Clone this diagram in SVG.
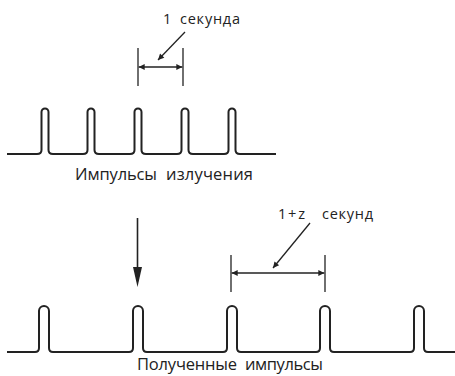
<svg xmlns="http://www.w3.org/2000/svg" width="455" height="376" viewBox="0 0 455 376">
<style>
.wave{fill:none;stroke:#222;stroke-width:2;stroke-linejoin:round}
.dim{fill:none;stroke:#222;stroke-width:1.3}
.txt{font-family:"Open Sans",Roboto,"Liberation Sans",sans-serif;fill:#222}
</style>
<defs>
<marker id="ah" viewBox="0 0 10 10" refX="10" refY="5" markerWidth="8" markerHeight="6" markerUnits="userSpaceOnUse" orient="auto-start-reverse">
<path d="M0,0L10,5L0,10z" fill="#222"/>
</marker>
</defs>
<rect width="455" height="376" fill="#fff"/>
<g id="emitted-pulses">
<path class="wave" d="M7,154 H37 Q41.5,154 41.5,150 V112 A3.5,3.5 0 0 1 48.5,112 V150 Q48.5,154 53,154 H83 Q87.5,154 87.5,150 V112 A3.5,3.5 0 0 1 94.5,112 V150 Q94.5,154 99,154 H130 Q134.5,154 134.5,150 V112 A3.5,3.5 0 0 1 141.5,112 V150 Q141.5,154 146,154 H177 Q181.5,154 181.5,150 V112 A3.5,3.5 0 0 1 188.5,112 V150 Q188.5,154 193,154 H224 Q228.5,154 228.5,150 V112 A3.5,3.5 0 0 1 235.5,112 V150 Q235.5,154 240,154 H276"/>
<text class="txt" font-size="16.5" y="180"><tspan x="75" textLength="82">Импульсы</tspan><tspan x="166" textLength="87">излучения</tspan></text>
</g>
<g id="received-pulses">
<path class="wave" d="M7,352 H35 Q39,352 39,348 V311 A5,5 0 0 1 49,311 V348 Q49,352 53,352 H129 Q133,352 133,348 V311 A5,5 0 0 1 143,311 V348 Q143,352 147,352 H223 Q227,352 227,348 V311 A5,5 0 0 1 237,311 V348 Q237,352 241,352 H316 Q320,352 320,348 V311 A5,5 0 0 1 330,311 V348 Q330,352 334,352 H410 Q414,352 414,348 V311 A5,5 0 0 1 424,311 V348 Q424,352 428,352 H455"/>
<text class="txt" font-size="16.5" y="369.5"><tspan x="137" textLength="100">Полученные</tspan><tspan x="245" textLength="78">импульсы</tspan></text>
</g>
<g id="label-1s">
<text class="txt" font-size="14.5" y="24"><tspan x="163">1</tspan><tspan x="180" textLength="60">секунда</tspan></text>
</g>
<g id="label-1z">
<text class="txt" font-size="14.5" y="219"><tspan x="278" textLength="27">1+z</tspan><tspan x="322" textLength="51">секунд</tspan></text>
</g>
<g id="connectors">
<line class="dim" x1="138" y1="48" x2="138" y2="86"/>
<line class="dim" x1="183" y1="48" x2="183" y2="86"/>
<line class="dim" x1="138.7" y1="67" x2="182.3" y2="67" marker-start="url(#ah)" marker-end="url(#ah)"/>
<line class="dim" x1="185" y1="32" x2="158" y2="60" marker-end="url(#ah)"/>
<line class="dim" x1="231" y1="255" x2="231" y2="292"/>
<line class="dim" x1="325" y1="255" x2="325" y2="292"/>
<line class="dim" x1="231.7" y1="273" x2="324.3" y2="273" marker-start="url(#ah)" marker-end="url(#ah)"/>
<line class="dim" x1="310" y1="223" x2="273" y2="268" marker-end="url(#ah)"/>
<line x1="137.5" y1="218" x2="137.5" y2="272" stroke="#222" stroke-width="1.6"/>
<path d="M133,267 L142,267 L137.5,287 z" fill="#222"/>
</g>
</svg>
